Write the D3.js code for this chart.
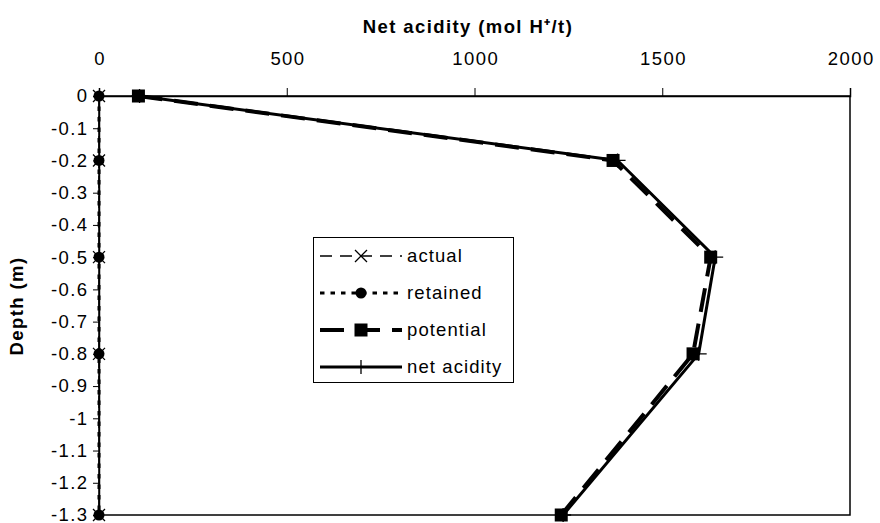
<!DOCTYPE html>
<html>
<head>
<meta charset="utf-8">
<script src="https://cdn.jsdelivr.net/npm/d3@7"></script>
<style>
  html, body { margin: 0; padding: 0; background: #fff; }
  svg { display: block; }
  text { font-family: "Liberation Sans", Arial, sans-serif; fill: #000; }
</style>
</head>
<body>
<svg id="chart" width="880" height="523"></svg>
<script>
// ---- data ----
const depths = [0, -0.2, -0.5, -0.8, -1.3];
const actual = [0, 0, 0, 0, 0];
const retained = [0, 0, 0, 0, 0];
const potential = [105, 1369, 1629, 1582, 1231];
const netAcidity = [108, 1381, 1641, 1597, 1236];
const seriesNames = ["actual", "retained", "potential", "net acidity"];
const xTicks = [0, 500, 1000, 1500, 2000];
const yTicks = [0, -0.1, -0.2, -0.3, -0.4, -0.5, -0.6, -0.7, -0.8, -0.9, -1, -1.1, -1.2, -1.3];
const xTitle = "Net acidity (mol H\u207A/t)";
const yTitle = "Depth (m)";

// ---- layout ----
const svg = d3.select("#chart");
const L = 99, R = 850, T = 96, B = 515;
const x = d3.scaleLinear().domain([0, 2000]).range([L, R]);
const y = d3.scaleLinear().domain([0, -1.3]).range([T, B]);
const FONT = 18.5, LS = 1.4;

// plot border
svg.append("rect").attr("x", L).attr("y", T).attr("width", R - L).attr("height", B - T)
  .attr("fill", "#fff").attr("stroke", "#000").attr("stroke-width", 1.5);

// top axis
const gx = svg.append("g").attr("transform", `translate(0,${T})`)
  .call(d3.axisTop(x).tickValues(xTicks).tickSize(8).tickPadding(23).tickFormat(d3.format("d")));
gx.select(".domain").attr("stroke-width", 1.5);
gx.selectAll(".tick line").attr("stroke-width", 1);
gx.selectAll("text").attr("font-size", FONT).attr("letter-spacing", LS).attr("font-family", null)
  .attr("dx", LS / 2);

// left axis
const gy = svg.append("g").attr("transform", `translate(${L},0)`)
  .call(d3.axisLeft(y).tickValues(yTicks).tickSize(6).tickPadding(6)
    .tickFormat(d => d === 0 ? "0" : String(+d.toFixed(1))));
gy.select(".domain").attr("stroke-width", 1.5);
gy.selectAll(".tick line").attr("stroke-width", 1);
gy.selectAll("text").attr("font-size", FONT).attr("letter-spacing", LS).attr("font-family", null)
  .attr("dx", LS);

// titles
svg.append("text").attr("x", 468).attr("y", 33).attr("text-anchor", "middle")
  .attr("font-size", FONT).attr("font-weight", "bold").attr("letter-spacing", LS)
  .text(xTitle);
svg.append("text").attr("transform", "translate(23,306) rotate(-90)").attr("text-anchor", "middle")
  .attr("font-size", FONT).attr("font-weight", "bold").attr("letter-spacing", LS)
  .text(yTitle);

// ---- series styles ----
const styles = [
  { name: seriesNames[0], values: actual, width: 1.3, dash: "12,8", marker: "x" },
  { name: seriesNames[1], values: retained, width: 3, dash: "4.5,6", marker: "circle" },
  { name: seriesNames[2], values: potential, width: 4, dash: "24,12", marker: "square" },
  { name: seriesNames[3], values: netAcidity, width: 3, dash: null, marker: "plus" }
];

function drawMarker(g, type, cx, cy) {
  if (type === "x") {
    g.append("path").attr("d", `M${cx - 6},${cy - 6}L${cx + 6},${cy + 6}M${cx - 6},${cy + 6}L${cx + 6},${cy - 6}`)
      .attr("stroke", "#000").attr("stroke-width", 1.3).attr("fill", "none");
  } else if (type === "circle") {
    g.append("circle").attr("cx", cx).attr("cy", cy).attr("r", 5.5).attr("fill", "#000");
  } else if (type === "square") {
    g.append("rect").attr("x", cx - 6.5).attr("y", cy - 6.5).attr("width", 13).attr("height", 13).attr("fill", "#000");
  } else if (type === "plus") {
    g.append("path").attr("d", `M${cx - 8},${cy}L${cx + 8},${cy}M${cx},${cy - 7}L${cx},${cy + 7}`)
      .attr("stroke", "#000").attr("stroke-width", 1.3).attr("fill", "none");
  }
}

const line = d3.line().x(d => x(d[0])).y(d => y(d[1]));
const plot = svg.append("g");
styles.forEach(s => {
  const pts = s.values.map((v, i) => [v, depths[i]]);
  plot.append("path").attr("d", line(pts)).attr("fill", "none").attr("stroke", "#000")
    .attr("stroke-width", s.width).attr("stroke-dasharray", s.dash).attr("stroke-linejoin", "round");
});
styles.forEach(s => {
  const g = plot.append("g");
  s.values.forEach((v, i) => drawMarker(g, s.marker, x(v), y(depths[i])));
});

// ---- legend ----
const lg = svg.append("g");
lg.append("rect").attr("x", 313.5).attr("y", 237.5).attr("width", 200).attr("height", 145)
  .attr("fill", "#fff").attr("stroke", "#000").attr("stroke-width", 1);
const rowY = [256, 293, 330, 367];
styles.forEach((s, i) => {
  const yy = rowY[i];
  lg.append("line").attr("x1", 320).attr("x2", 402).attr("y1", yy).attr("y2", yy)
    .attr("stroke", "#000").attr("stroke-width", s.width).attr("stroke-dasharray", s.dash);
  drawMarker(lg, s.marker, 361, yy);
  lg.append("text").attr("x", 407).attr("y", yy).attr("dy", "0.35em")
    .attr("font-size", FONT).attr("letter-spacing", 1.1).text(s.name);
});
</script>
</body>
</html>
